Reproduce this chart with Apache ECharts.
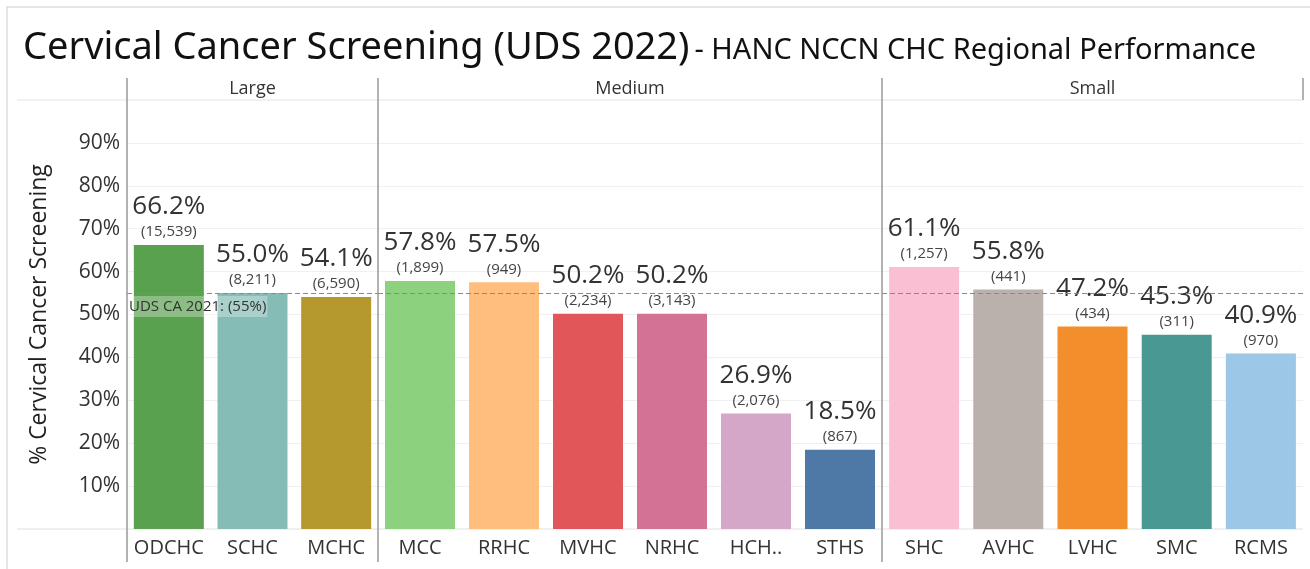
<!DOCTYPE html>
<html>
<head>
<meta charset="utf-8">
<script src="https://cdn.jsdelivr.net/npm/echarts@6/dist/echarts.min.js"></script>
<style>
  html, body { margin: 0; padding: 0; background: #fff; }
  #main { width: 1310px; height: 569px; }
</style>
</head>
<body>
<div id="main"></div>
<script>
// groups (panel headers)
var groups = ['Large', 'Medium', 'Small'];
// clinic names per group
var largeNames = ['ODCHC', 'SCHC', 'MCHC'];
var mediumNames = ['MCC', 'RRHC', 'MVHC', 'NRHC', 'HCH..', 'STHS'];
var smallNames = ['SHC', 'AVHC', 'LVHC', 'SMC', 'RCMS'];
// screening rate %
var largeRates = [66.2, 55.0, 54.1];
var mediumRates = [57.8, 57.5, 50.2, 50.2, 26.9, 18.5];
var smallRates = [61.1, 55.8, 47.2, 45.3, 40.9];
// patient counts
var largeCounts = [15539, 8211, 6590];
var mediumCounts = [1899, 949, 2234, 3143, 2076, 867];
var smallCounts = [1257, 441, 434, 311, 970];
// reference line
var benchmark = 55;
var benchmarkLabel = 'UDS CA 2021: (55%)';

var colors = {
  ODCHC: '#59a14f', SCHC: '#86bcb6', MCHC: '#b6992d',
  MCC: '#8cd17d', RRHC: '#ffbe7d', MVHC: '#e15759', NRHC: '#d37295', 'HCH..': '#d4a6c8', STHS: '#4e79a7',
  SHC: '#fabfd2', AVHC: '#bab0ac', LVHC: '#f28e2b', SMC: '#499894', RCMS: '#9dc7e6'
};

var names = [largeNames, mediumNames, smallNames];
var rates = [largeRates, mediumRates, smallRates];
var counts = [largeCounts, mediumCounts, smallCounts];

var font = 'Open Sans';
var plotTop = 100, plotBottom = 529;
var gridLeft = [127, 378, 882];
var gridW = [251, 504, 421];
var rightEdge = 1303;

var chart = echarts.init(document.getElementById('main'));

var grids = [], xAxes = [], yAxes = [], series = [];
for (var g = 0; g < 3; g++) {
  grids.push({ left: gridLeft[g], top: plotTop, width: gridW[g], height: plotBottom - plotTop });
  xAxes.push({
    type: 'category', gridIndex: g, data: names[g], position: 'bottom',
    axisLine: { show: false }, axisTick: { show: false },
    axisLabel: { interval: 0, fontFamily: font, fontSize: 20, color: '#333', margin: 9 }
  });
  xAxes.push({
    type: 'category', gridIndex: g, data: [groups[g]], position: 'top',
    axisLine: { show: false }, axisTick: { show: false },
    axisLabel: { fontFamily: font, fontSize: 18, color: '#333', margin: 2 }
  });
  yAxes.push({
    type: 'value', gridIndex: g, min: 0, max: 100, interval: 10,
    name: g === 0 ? '% Cervical Cancer Screening' : '',
    nameLocation: 'middle', nameGap: 76,
    nameTextStyle: { fontFamily: font, fontSize: 23, color: '#222' },
    axisLine: { show: false }, axisTick: { show: false },
    axisLabel: {
      show: g === 0, fontFamily: font, fontSize: 21, color: '#333', margin: 7,
      formatter: function (v) { return (v === 0 || v === 100) ? '' : v + '%'; }
    },
    splitLine: { lineStyle: { color: '#f0f0f0', width: 1 } }
  });
  var data = names[g].map(function (n, i) {
    return { value: rates[g][i], count: counts[g][i], itemStyle: { color: colors[n] } };
  });
  series.push({
    type: 'bar', xAxisIndex: g * 2, yAxisIndex: g, barWidth: 70,
    data: data,
    label: {
      show: true, position: 'top', distance: 3,
      formatter: function (p) {
        return '{a|' + p.value.toFixed(1) + '%}\n{b|(' + p.data.count.toLocaleString('en-US') + ')}';
      },
      rich: {
        a: { fontFamily: font, fontSize: 26, color: '#333', lineHeight: 30 },
        b: { fontFamily: font, fontSize: 15, color: '#444', lineHeight: 20 }
      }
    },
    markLine: {
      silent: true, symbol: 'none',
      lineStyle: { color: '#888', type: [5, 3], width: 1.2 },
      label: g === 0 ? {
        show: true, position: 'insideStartBottom', formatter: benchmarkLabel,
        fontFamily: font, fontSize: 15, color: '#333',
        backgroundColor: 'rgba(255,255,255,0.3)', padding: [3, 1, 3, 1], distance: [1, 3]
      } : { show: false },
      data: [{ yAxis: benchmark }]
    }
  });
}

var vline = function (x) {
  return { type: 'line', shape: { x1: x, y1: 78, x2: x, y2: 562 }, style: { stroke: '#999', lineWidth: 1.5 }, z: 10 };
};

chart.setOption({
  animation: false,
  title: {
    left: 18, top: 24,
    text: '{m|Cervical Cancer Screening (UDS 2022)} {s|- HANC NCCN CHC Regional Performance}',
    textStyle: {
      rich: {
        m: { fontFamily: 'Noto Sans', fontSize: 38, fontWeight: 'normal', color: '#111' },
        s: { fontFamily: 'Noto Sans', fontSize: 29, fontWeight: 'normal', color: '#111', padding: [6, 0, 0, 0] }
      }
    }
  },
  grid: grids,
  xAxis: xAxes,
  yAxis: yAxes,
  series: series,
  graphic: [
    { type: 'rect', shape: { x: 7, y: 7, width: 1320, height: 580 }, style: { fill: 'none', stroke: '#ddd', lineWidth: 1.5 } },
    { type: 'line', shape: { x1: 17, y1: plotTop, x2: rightEdge, y2: plotTop }, style: { stroke: '#e4e4e4', lineWidth: 1 } },
    { type: 'line', shape: { x1: 17, y1: plotBottom, x2: rightEdge, y2: plotBottom }, style: { stroke: '#e0e0e0', lineWidth: 1 } },
    vline(gridLeft[0]), vline(gridLeft[1]), vline(gridLeft[2]),
    { type: 'line', shape: { x1: rightEdge, y1: 78, x2: rightEdge, y2: 100 }, style: { stroke: '#999', lineWidth: 1.5 } }
  ]
});
</script>
</body>
</html>
